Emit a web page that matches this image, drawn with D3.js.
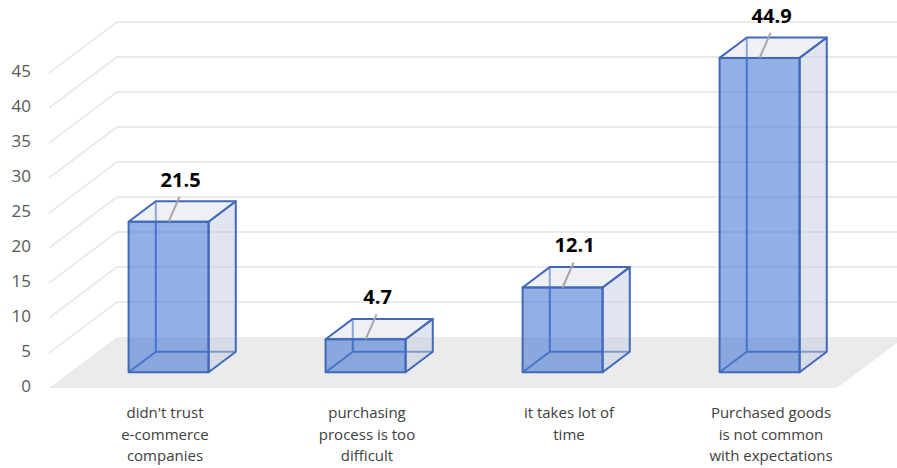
<!DOCTYPE html>
<html>
<head>
<meta charset="utf-8">
<script src="https://cdn.jsdelivr.net/npm/d3@7"></script>
<style>
  html, body { margin: 0; padding: 0; background: #fff; }
  svg { display: block; }
</style>
</head>
<body>
<svg id="chart" width="897" height="468"></svg>
<script>
// Reasons given (per cent of respondents)
const categories = [
  "didn't trust\ne-commerce\ncompanies",
  "purchasing\nprocess is too\ndifficult",
  "it takes lot of\ntime",
  "Purchased goods\nis not common\nwith expectations"
];
const values = [21.5, 4.7, 12.1, 44.9];
const yTicks = [0, 5, 10, 15, 20, 25, 30, 35, 40, 45];

const W = 897, H = 468;
const svg = d3.select("#chart");
const font = "'Open Sans', 'Liberation Sans', sans-serif";

// Oblique 3-D projection: the floor runs from depth 0 (front) to depth 1 (back wall)
const depthDX = 68, depthDY = -51;
const floorLeft = 49, floorRight = 837;

const x = d3.scaleBand()
  .domain(categories)
  .range([floorLeft, floorRight])
  .paddingInner(0.594)
  .paddingOuter(0.297);

const y = d3.scaleLinear().domain([0, 45]).range([388, 73]);

// label band sits a little wider than the bars, as the category axis does
const xLabel = d3.scaleBand().domain(categories).range([64, 872]);

const P = (px, v, z) => [px + z * depthDX, y(v) + z * depthDY];
const line = d3.line();

// floor
svg.append("path")
  .attr("d", line([P(floorLeft, 0, 0), P(floorRight, 0, 0), P(floorRight, 0, 1), P(floorLeft, 0, 1)]) + "Z")
  .attr("fill", "#ebebeb");

// gridlines on the side wall and back wall
svg.append("g").selectAll("path")
  .data(yTicks.filter(v => v > 0))
  .join("path")
  .attr("d", v => line([P(floorLeft, v, 0), P(floorLeft, v, 1), P(floorRight, v, 1)]))
  .attr("fill", "none")
  .attr("stroke", "#e3e3e3")
  .attr("stroke-width", 1.5);

// value axis
const yAxis = svg.append("g")
  .attr("transform", "translate(31,-2)")
  .call(d3.axisLeft(y).tickValues(yTicks).tickSize(0).tickPadding(0));
yAxis.select(".domain").remove();
yAxis.selectAll("text")
  .attr("fill", "#595959")
  .style("font-family", font)
  .style("font-size", "17px");

// bars
const z0 = 0.31, z1 = 0.71;
const bw = x.bandwidth();
const stroke = "#4169b8";

const bars = svg.append("g").selectAll("g")
  .data(categories.map((c, i) => ({ c, v: values[i] })))
  .join("g");

bars.each(function (d) {
  const g = d3.select(this);
  const xl = x(d.c), xr = xl + bw, v = d.v;

  // edges at the back, seen through the faces
  g.append("path")
    .attr("d", line([P(xl, 0, z0), P(xl, 0, z1), P(xr, 0, z1)]) + "M" + P(xl, 0, z1) + "L" + P(xl, v, z1))
    .attr("fill", "none").attr("stroke", stroke).attr("stroke-width", 2);

  // right side
  g.append("path")
    .attr("d", line([P(xr, 0, z0), P(xr, 0, z1), P(xr, v, z1), P(xr, v, z0)]) + "Z")
    .attr("fill", "#c2cbe0").attr("fill-opacity", 0.5)
    .attr("stroke", stroke).attr("stroke-width", 2).attr("stroke-linejoin", "round");

  // top
  g.append("path")
    .attr("d", line([P(xl, v, z0), P(xr, v, z0), P(xr, v, z1), P(xl, v, z1)]) + "Z")
    .attr("fill", "#dde2ee").attr("fill-opacity", 0.5)
    .attr("stroke", stroke).attr("stroke-width", 2).attr("stroke-linejoin", "round");

  // front
  g.append("path")
    .attr("d", line([P(xl, 0, z0), P(xr, 0, z0), P(xr, v, z0), P(xl, v, z0)]) + "Z")
    .attr("fill", "#4a7cd6").attr("fill-opacity", 0.6)
    .attr("stroke", stroke).attr("stroke-width", 2).attr("stroke-linejoin", "round");

  // value label with leader line
  const [cx, cy] = P(xl + bw / 2, v, z0);
  g.append("line")
    .attr("x1", cx).attr("y1", cy)
    .attr("x2", cx + 11).attr("y2", cy - 25)
    .attr("stroke", "#a6a6a6").attr("stroke-width", 2);
  g.append("text")
    .attr("x", cx + 12).attr("y", cy - 35)
    .attr("text-anchor", "middle")
    .style("font-family", font)
    .style("font-size", "20px")
    .style("font-weight", "bold")
    .attr("fill", "#000")
    .text(d3.format(".1f")(v));
});

// category labels
const cat = svg.append("g").selectAll("text")
  .data(categories)
  .join("text")
  .attr("text-anchor", "middle")
  .attr("fill", "#404040")
  .style("font-family", font)
  .style("font-size", "15px");
cat.each(function (c) {
  const t = d3.select(this);
  c.split("\n").forEach((s, i) => {
    t.append("tspan")
      .attr("x", xLabel(c) + xLabel.bandwidth() / 2)
      .attr("y", 418 + i * 21.5)
      .text(s);
  });
});
</script>
</body>
</html>
